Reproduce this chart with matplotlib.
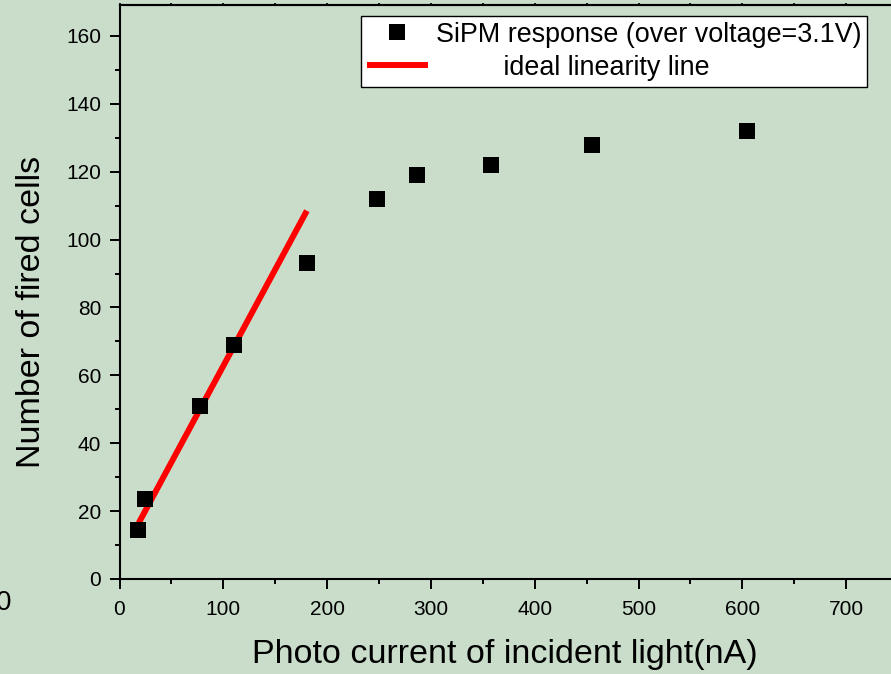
import matplotlib
matplotlib.use("Agg")
import matplotlib.pyplot as plt
from matplotlib.ticker import MultipleLocator

plt.rcParams['font.family'] = ['Liberation Sans', 'DejaVu Sans']

# SiPM response: photo current (nA) vs number of fired cells
photo_current = [18, 25, 78, 110, 181, 248, 287, 358, 455, 605]
fired_cells = [14.5, 23.5, 51, 69, 93, 112, 119, 122, 128, 132]

# ideal linearity line end points
ideal_x = [18.5, 180.5]
ideal_y = [16.5, 108.5]

xlim = (0, 800)
ylim = (0, 169)
xticks = [0, 100, 200, 300, 400, 500, 600, 700]
yticks = [0, 20, 40, 60, 80, 100, 120, 140, 160]

bg = '#CADDCB'
W, H = 891, 674
fig = plt.figure(figsize=(W / 100, H / 100), dpi=100, facecolor=bg)

x0_px, y0_px = 119.5, 579.0
px_per_x = 103.8 / 100
px_per_y = 3.394
ax_w_px = (xlim[1] - xlim[0]) * px_per_x
ax_h_px = (ylim[1] - ylim[0]) * px_per_y
ax = fig.add_axes([x0_px / W, (H - y0_px) / H, ax_w_px / W, ax_h_px / H])
ax.set_facecolor(bg)

ax.plot(photo_current, fired_cells, linestyle='none', marker='s',
        markersize=12, color='black', markeredgewidth=0,
        label='SiPM response (over voltage=3.1V)', zorder=3)
ax.plot(ideal_x, ideal_y, color='#FF0000', linewidth=4.3,
        solid_capstyle='butt', label='         ideal linearity line', zorder=2)

ax.set_xlim(*xlim)
ax.set_ylim(*ylim)
ax.set_xticks(xticks)
ax.set_yticks(yticks)
ax.xaxis.set_minor_locator(MultipleLocator(50))
ax.yaxis.set_minor_locator(MultipleLocator(10))

for s in ax.spines.values():
    s.set_linewidth(1.5)
ax.spines['right'].set_visible(False)

ax.tick_params(axis='both', which='major', direction='out', length=7.2,
               width=1.4, labelsize=15, pad=6)
ax.tick_params(axis='x', which='major', pad=8)
ax.tick_params(axis='both', which='minor', direction='out', length=3.6, width=1.4)

# short marks along the top spine
top = ax.secondary_xaxis('top')
top.set_xticks(xticks)
top.xaxis.set_minor_locator(MultipleLocator(50))
top.tick_params(which='both', direction='out', length=1.5, width=1.2,
                labeltop=False)
top.spines['top'].set_linewidth(1.5)

ax.set_xlabel('Photo current of incident light(nA)', fontsize=24.5)
ax.xaxis.set_label_coords((505 - x0_px) / ax_w_px, -(654 - y0_px) / ax_h_px)
ax.xaxis.label.set_va('center')
ax.set_ylabel('Number of fired cells', fontsize=24.5)
ax.yaxis.set_label_coords(-(x0_px - 31.5) / ax_w_px, (y0_px - 312) / ax_h_px)
ax.yaxis.label.set_va('center')

leg = ax.legend(loc='upper left', bbox_to_anchor=(361 / W, 1 - 16 / H),
                bbox_transform=fig.transFigure, fontsize=19.4, frameon=True,
                fancybox=False, framealpha=1, edgecolor='black',
                handlelength=2.25, handletextpad=0.3, borderpad=0.22,
                labelspacing=0.25, borderaxespad=0)
leg.get_frame().set_linewidth(1.0)
leg.set_zorder(5)

fig.text(11 / W, 1 - 603 / H, '0', fontsize=20, ha='right', va='center')

fig.savefig('out.png', dpi=100, facecolor=bg)
